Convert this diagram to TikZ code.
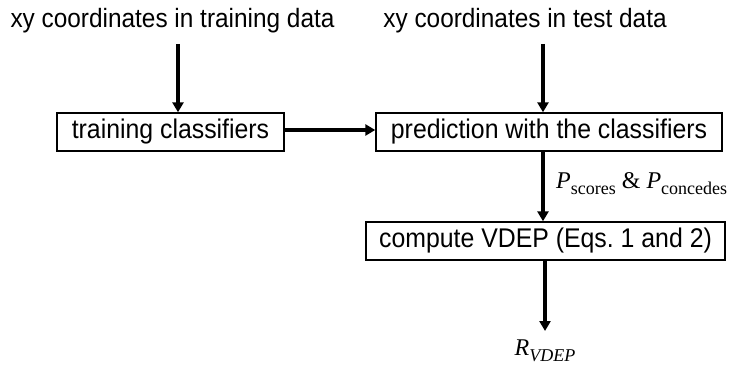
\documentclass[tikz,border=0pt]{standalone}
\usepackage{fontspec}
\setmainfont{Liberation Sans}[FakeStretch=0.92]
\newfontfamily\serifmath{Liberation Serif}
\usetikzlibrary{arrows.meta}
\begin{document}
\begin{tikzpicture}[x=1pt,y=-1pt,
  txt/.style={font=\fontsize{26.5}{30}\selectfont, inner sep=0pt, anchor=center},
  box/.style={draw, line width=1.4pt, rectangle, inner sep=0pt, font=\fontsize{27}{30}\selectfont},
  arr/.style={line width=3.2pt, -{Triangle[length=10pt,width=11pt]}},
  lab/.style={font=\fontsize{24}{28}\selectfont\serifmath, inner sep=0pt}]
\useasboundingbox (0,0) rectangle (741,369);
\node[txt] (t1) at (172.5,21) {xy coordinates in training data};
\node[txt] (t2) at (525,21) {xy coordinates in test data};
\node[box, minimum width=227pt, minimum height=38pt] (a) at (170.5,132) {training classifiers};
\node[box, minimum width=346pt, minimum height=38pt] (b) at (549,132) {prediction with the classifiers};
\node[box, minimum width=359pt, minimum height=38pt] (c) at (545.5,241) {compute VDEP (Eqs.\ 1 and 2)};
\coordinate (t1b) at (178,44);
\coordinate (t2b) at (543,44);
\coordinate (end) at (545,331);
\node[lab, anchor=west] (p) at (556,184) {\textit{P}\raisebox{-0.25em}{\fontsize{18}{20}\selectfont scores} \& \textit{P}\raisebox{-0.25em}{\fontsize{18}{20}\selectfont concedes}};
\node[lab] (r) at (545,351) {\textit{R}\raisebox{-0.25em}{\fontsize{18}{20}\selectfont\itshape VDEP}};
\draw[arr] (t1b) -- (t1b |- a.north);
\draw[arr] (t2b) -- (t2b |- b.north);
\draw[arr] (a.east |- 0,130) -- (b.west |- 0,130);
\draw[arr] (b.south -| 543,0) -- (c.north -| 543,0);
\draw[arr] (c.south -| end) -- (end);
\end{tikzpicture}
\end{document}
